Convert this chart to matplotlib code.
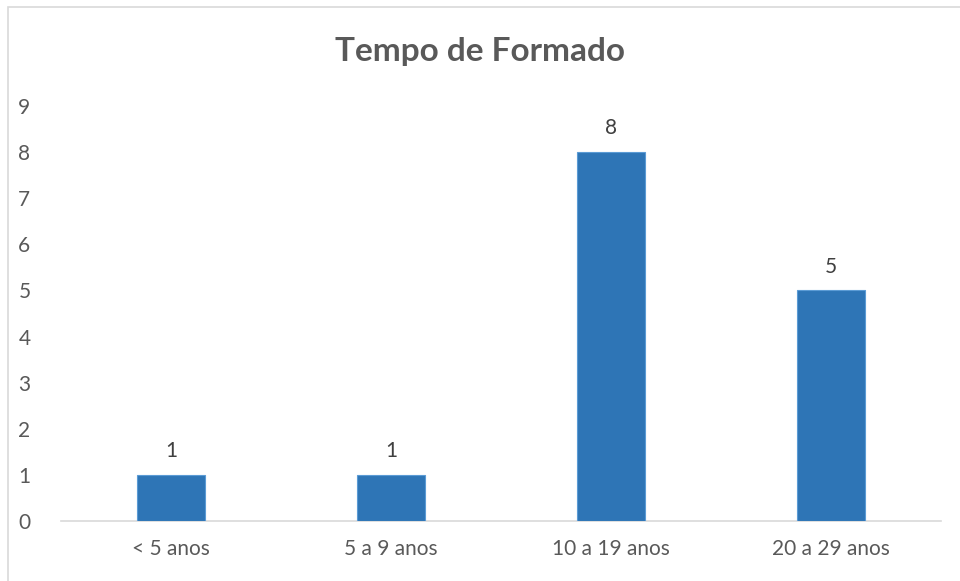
import matplotlib
matplotlib.use("Agg")
import matplotlib.pyplot as plt
from matplotlib.patches import Rectangle

categories = ["< 5 anos", "5 a 9 anos", "10 a 19 anos", "20 a 29 anos"]
values = [1, 1, 8, 5]
yticks = list(range(0, 10))

plt.rcParams['font.family'] = ['Lato', 'DejaVu Sans']
W, H = 960, 581
fig = plt.figure(figsize=(W/100, H/100), dpi=100)
ax = fig.add_axes([61/W, 60/H, 880/W, 415/H])

bars = ax.bar(range(len(categories)), values, width=0.31, color="#2E75B6",
              edgecolor="#5B9BD5", linewidth=0.8, zorder=3)
for i, v in enumerate(values):
    ax.text(i, v + 0.3, str(v), ha="center", va="bottom", fontsize=15, color="#404040")

ax.set_xlim(-0.5, len(categories) - 0.5)
ax.set_ylim(0, 9)
ax.set_yticks(yticks)
ax.set_yticklabels([str(t) for t in yticks])
ax.set_xticks(range(len(categories)))
ax.set_xticklabels(categories)
ax.tick_params(axis="both", length=0, labelsize=15, labelcolor="#595959")
ax.tick_params(axis="y", pad=22)
ax.tick_params(axis="x", pad=13)
for s in ["top", "right", "left"]:
    ax.spines[s].set_visible(False)
ax.spines["bottom"].set_color("#D9D9D9")
ax.spines["bottom"].set_linewidth(1.2)

fig.text(0.5, 1 - 52/H, "Tempo de Formado", ha="center", va="center",
         fontsize=24, fontweight="bold", color="#595959")

fig.patches.append(Rectangle((8/W, -0.1), 1.2, 1 - 7/H + 0.1, transform=fig.transFigure,
                             fill=False, edgecolor="#D9D9D9", linewidth=1.2))

fig.savefig("out.png", dpi=100)
